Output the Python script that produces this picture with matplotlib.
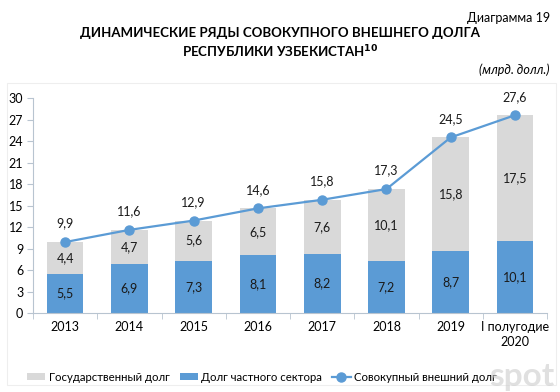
import matplotlib.pyplot as plt
from matplotlib.patches import Rectangle
import numpy as np

plt.rcParams['font.family'] = ['Lato', 'DejaVu Sans']

categories = ['2013', '2014', '2015', '2016', '2017', '2018', '2019', 'I полугодие\n2020']
private_debt = [5.5, 6.9, 7.3, 8.1, 8.2, 7.2, 8.7, 10.1]
state_debt = [4.4, 4.7, 5.6, 6.5, 7.6, 10.1, 15.8, 17.5]
total_debt = [9.9, 11.6, 12.9, 14.6, 15.8, 17.3, 24.5, 27.6]

blue = '#5B9BD5'
grey = '#D9D9D9'
axis_col = '#B8C4D0'

def fmt(v):
    return f'{v:.1f}'.replace('.', ',')

fig = plt.figure(figsize=(5.6, 3.92), dpi=100)
ax = fig.add_axes([0.059, 0.2015, 0.918, 0.5485])

x = np.arange(len(categories))
w = 0.57
b1 = ax.bar(x, state_debt, w, bottom=private_debt, color=grey, zorder=2)
b2 = ax.bar(x, private_debt, w, color=blue, zorder=2)
l1, = ax.plot(x, total_debt, color=blue, lw=1.6, marker='o', ms=6.5, zorder=3)

for i in range(len(x)):
    ax.text(x[i], private_debt[i] / 2, fmt(private_debt[i]), ha='center', va='center', fontsize=9, color='#1a1a1a', zorder=4)
    ax.text(x[i], private_debt[i] + state_debt[i] / 2, fmt(state_debt[i]), ha='center', va='center', fontsize=9, color='#1a1a1a', zorder=4)
    ax.annotate(fmt(total_debt[i]), (x[i], total_debt[i]), xytext=(0, 9), textcoords='offset points',
                ha='center', va='bottom', fontsize=9, color='#1a1a1a', zorder=4)

ax.set_xlim(-0.5, len(x) - 0.5)
ax.set_ylim(0, 30)
ax.set_yticks(np.arange(0, 31, 3))
ax.set_xticks(x)
ax.set_xticklabels(categories, fontsize=9, linespacing=1.3)
ax.set_xticks(np.arange(-0.5, len(x), 1), minor=True)
ax.tick_params(axis='x', which='major', length=0, pad=6)
ax.tick_params(axis='x', which='minor', length=4, color=axis_col)
ax.tick_params(axis='y', length=4, color=axis_col, labelsize=9, pad=3)
for s in ['top', 'right']:
    ax.spines[s].set_visible(False)
for s in ['left', 'bottom']:
    ax.spines[s].set_color(axis_col)

ax.legend([b1, b2, l1], ['Государственный долг', 'Долг частного сектора', 'Совокупный внешний долг'],
          loc='upper center', bbox_to_anchor=(0.445, -0.225), ncol=3, frameon=False, fontsize=8.2,
          handlelength=1.6, handleheight=0.5, columnspacing=0.9, handletextpad=0.3)

fig.text(0.982, 0.955, 'Диаграмма 19', ha='right', va='center', fontsize=9)
fig.text(0.5, 0.915, 'ДИНАМИЧЕСКИЕ РЯДЫ СОВОКУПНОГО ВНЕШНЕГО ДОЛГА', ha='center', va='center', fontsize=9.5, fontweight='bold')
fig.text(0.5, 0.867, 'РЕСПУБЛИКИ УЗБЕКИСТАН$^{\\mathbf{10}}$', ha='center', va='center', fontsize=9.5, fontweight='bold')
fig.text(0.982, 0.822, '(млрд. долл.)', ha='right', va='center', fontsize=9, style='italic')
fig.text(0.99, 0.04, 'spot', ha='right', va='center', fontsize=24, color='#CCCCCC', alpha=0.6, fontweight='bold')

fig.patches.append(Rectangle((0.012, 0.018), 0.98, 0.77, transform=fig.transFigure,
                             fill=False, edgecolor='#EEEEEE', lw=0.8))

fig.savefig('out.png', dpi=100)
